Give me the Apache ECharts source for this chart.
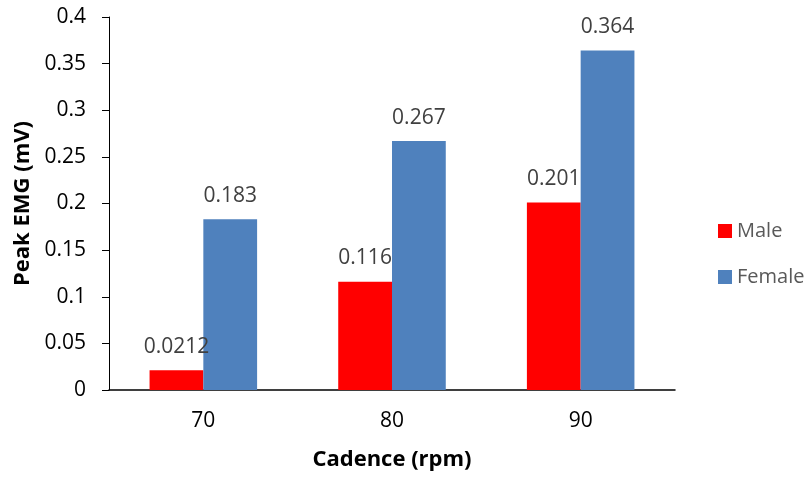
<!DOCTYPE html>
<html>
<head>
<meta charset="utf-8">
<script src="https://cdn.jsdelivr.net/npm/echarts@6/dist/echarts.min.js"></script>
<style>
  html, body { margin: 0; padding: 0; background: #fff; }
  #chart { width: 807px; height: 477px; }
</style>
</head>
<body>
<div id="chart"></div>
<script>
// Cadence categories and peak EMG per group
const cadences = ['70', '80', '90'];
const maleValues = [0.0212, 0.116, 0.201];
const femaleValues = [0.183, 0.267, 0.364];
const seriesNames = ['Male', 'Female'];

const FONT = '"Open Sans", Lato, "Liberation Sans", sans-serif';

const chart = echarts.init(document.getElementById('chart'));

const labelStyle = {
  show: true,
  position: 'top',
  distance: 13,
  color: '#404040',
  fontSize: 21,
  fontFamily: FONT
};

chart.setOption({
  animation: false,
  backgroundColor: '#ffffff',
  grid: { left: 109, right: 132, top: 17, bottom: 87 },
  legend: {
    orient: 'vertical',
    left: 713,
    top: 216,
    itemWidth: 14,
    itemHeight: 14,
    itemGap: 26,
    icon: 'rect',
    textStyle: { color: '#595959', fontSize: 20, fontFamily: FONT },
    data: seriesNames
  },
  xAxis: {
    type: 'category',
    data: cadences,
    name: 'Cadence (rpm)',
    nameLocation: 'middle',
    nameGap: 59,
    nameTextStyle: { color: '#000', fontSize: 22, fontWeight: 'bold', fontFamily: FONT },
    axisLine: { lineStyle: { color: '#000', width: 1.5 } },
    axisTick: { show: false },
    axisLabel: { color: '#000', fontSize: 21, margin: 21, fontFamily: FONT }
  },
  yAxis: {
    type: 'value',
    min: 0,
    max: 0.4,
    interval: 0.05,
    name: 'Peak EMG (mV)',
    nameLocation: 'middle',
    nameGap: 75,
    nameRotate: 90,
    nameTextStyle: { color: '#000', fontSize: 22, fontWeight: 'bold', fontFamily: FONT },
    axisLine: { show: true, lineStyle: { color: '#000', width: 1 } },
    axisTick: { show: true, length: 7, inside: false, lineStyle: { color: '#000' } },
    splitLine: { show: false },
    axisLabel: {
      color: '#000',
      fontSize: 21,
      margin: 23,
      fontFamily: FONT,
      formatter: v => String(parseFloat(v.toFixed(2)))
    }
  },
  series: [
    {
      name: seriesNames[0],
      type: 'bar',
      data: maleValues,
      barGap: '0%',
      barCategoryGap: '43%',
      itemStyle: { color: '#ff0000' },
      label: labelStyle
    },
    {
      name: seriesNames[1],
      type: 'bar',
      data: femaleValues,
      barGap: '0%',
      barCategoryGap: '43%',
      itemStyle: { color: '#4f81bd' },
      label: labelStyle
    }
  ]
});
</script>
</body>
</html>
